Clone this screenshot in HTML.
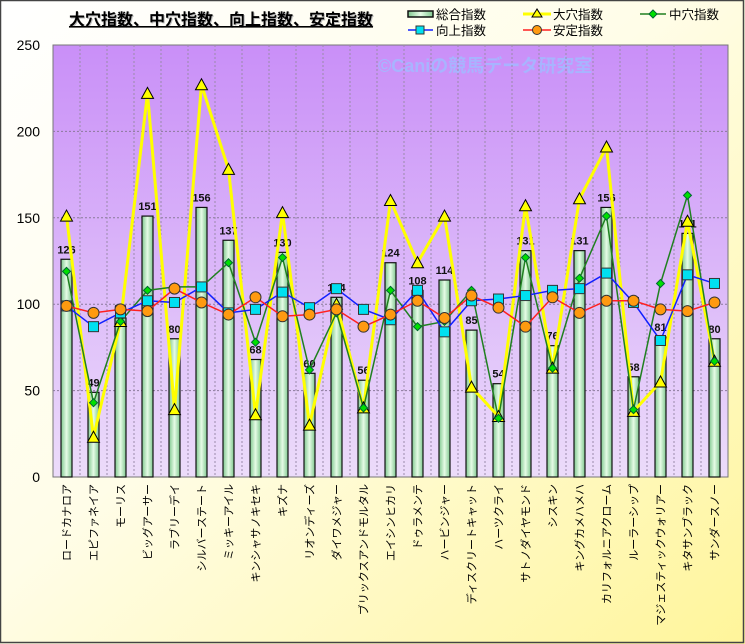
<!DOCTYPE html>
<html><head><meta charset="utf-8"><style>
html,body{margin:0;padding:0;width:745px;height:644px;overflow:hidden;background:#fff}
svg{display:block;font-family:"Liberation Sans","Noto Sans CJK JP",sans-serif}
</style></head><body>
<svg id="c" width="745" height="644" xmlns="http://www.w3.org/2000/svg">
<defs>
<linearGradient id="bg" x1="0" y1="0" x2="1" y2="1"><stop offset="0" stop-color="#ffffff"/><stop offset="0.45" stop-color="#fffde8"/><stop offset="1" stop-color="#fff59a"/></linearGradient>
<linearGradient id="pl" x1="0" y1="0" x2="0" y2="1"><stop offset="0" stop-color="#c98ff8"/><stop offset="1" stop-color="#ecdcfa"/></linearGradient>
<linearGradient id="bar" x1="0" y1="0" x2="1" y2="0"><stop offset="0" stop-color="#7fc88f"/><stop offset="0.5" stop-color="#e6fbe6"/><stop offset="1" stop-color="#7fc88f"/></linearGradient>
</defs>
<rect x="0" y="0" width="745" height="644" fill="url(#bg)"/>
<rect x="0.5" y="0.5" width="743" height="642" fill="none" stroke="#444" stroke-width="1.5"/>
<rect x="53" y="45" width="675" height="432" fill="url(#pl)" stroke="#777" stroke-width="1"/>
<text x="222" y="26" font-size="16" font-weight="bold" text-anchor="middle" fill="#bbb">大穴指数、中穴指数、向上指数、安定指数</text>
<text x="221" y="25" font-size="16" font-weight="bold" text-anchor="middle" fill="#000" text-decoration="underline">大穴指数、中穴指数、向上指数、安定指数</text>
<text x="378" y="72" font-size="18" font-weight="bold" fill="#a8b4ff">©Caniの競馬データ研究室</text>
<g id="g"></g>
</svg>
<script>
var g=document.getElementById('g'),h='';
function Y(v){return 477-v*1.728}
function X(i){return 66.5+27*i}
for(var k=1;k<5;k++){h+='<line x1="53" x2="728" y1="'+Y(k*50)+'" y2="'+Y(k*50)+'" stroke="#8a7a9a" stroke-dasharray="2,2"/>';}
for(var k=1;k<25;k++){var x=53+27*k;h+='<line x1="'+x+'" x2="'+x+'" y1="45" y2="477" stroke="#9a8aaa" stroke-dasharray="2,2"/>';}
for(var k=0;k<=5;k++){h+='<text x="40" y="'+(Y(k*50)+5)+'" font-size="14" text-anchor="end">'+k*50+'</text>';}
var names=["ロードカナロア","エピファネイア","モーリス","ビッグアーサー","ラブリーデイ","シルバーステート","ミッキーアイル","キンシャサノキセキ","キズナ","リオンディーズ","ダイワメジャー","ブリックスアンドモルタル","エイシンヒカリ","ドゥラメンテ","ハービンジャー","ディスクリートキャット","ハーツクライ","サトノダイヤモンド","シスキン","キングカメハメハ","カリフォルニアクローム","ルーラーシップ","マジェスティックウォリアー","キタサンブラック","サンダースノー"];
var tot=[126,49,92,151,80,156,137,68,130,60,104,56,124,108,114,85,54,131,76,131,156,58,81,141,80];
var oa=[151,23,90,222,39,227,178,36,153,30,100,40,160,124,151,52,35,157,63,161,191,38,55,148,67];
var na=[119,43,90,108,110,110,124,78,127,62,95,40,108,87,90,108,34,127,63,115,151,39,112,163,67];
var up=[99,87,95,102,101,110,95,97,107,98,109,97,91,108,84,102,103,105,108,109,118,101,79,117,112];
var st=[99,95,97,96,109,101,94,104,93,94,97,87,94,102,92,105,98,87,104,95,102,102,97,96,101];
for(var i=0;i<25;i++){var x=X(i),y=Y(tot[i]);
h+='<rect x="'+(x-5.5)+'" y="'+y+'" width="11" height="'+(477-y)+'" fill="url(#bar)" stroke="#111" stroke-width="1.2"/>';
h+='<text x="'+x+'" y="'+(y-6)+'" font-size="11" font-weight="bold" text-anchor="middle" fill="#111">'+tot[i]+'</text>';
h+='<text transform="translate('+(x+4)+',484) rotate(-90)" font-size="11" text-anchor="end">'+names[i]+'</text>';}
function pl(a,c,w){var p=a.map(function(v,i){return X(i)+','+Y(v)}).join(' ');return '<polyline points="'+p+'" fill="none" stroke="'+c+'" stroke-width="'+w+'"/>';}
h+=pl(oa,'#ffff00',3)+pl(na,'#208020',1.5)+pl(up,'#1020ff',1.5)+pl(st,'#ff2020',1.5);
for(var i=0;i<25;i++){var x=X(i);
var y=Y(oa[i]);h+='<polygon points="'+x+','+(y-6)+' '+(x-6)+','+(y+5)+' '+(x+6)+','+(y+5)+'" fill="#ffff00" stroke="#000"/>';
y=Y(na[i]);h+='<polygon points="'+x+','+(y-4)+' '+(x+4)+','+y+' '+x+','+(y+4)+' '+(x-4)+','+y+'" fill="#00e000" stroke="#063"/>';
y=Y(up[i]);h+='<rect x="'+(x-5)+'" y="'+(y-5)+'" width="10" height="10" fill="#00e0f0" stroke="#333"/>';
y=Y(st[i]);h+='<circle cx="'+x+'" cy="'+y+'" r="5.5" fill="#ff9a10" stroke="#333"/>';}
h+='<rect x="408" y="11" width="25" height="6" fill="url(#bar)" stroke="#111" stroke-width="1.5"/><text x="436" y="19" font-size="12.5">総合指数</text>';
h+='<line x1="523" y1="14" x2="551" y2="14" stroke="#ffff00" stroke-width="3"/><polygon points="537,9 532,17 542,17" fill="#ffff00" stroke="#000"/><text x="553" y="19" font-size="12.5">大穴指数</text>';
h+='<line x1="640" y1="14" x2="666" y2="14" stroke="#208020" stroke-width="1.5"/><polygon points="653,10 657,14 653,18 649,14" fill="#00e000" stroke="#063"/><text x="669" y="19" font-size="12.5">中穴指数</text>';
h+='<line x1="408" y1="30" x2="433" y2="30" stroke="#1020ff" stroke-width="1.5"/><rect x="416" y="26" width="8" height="8" fill="#00e0f0" stroke="#333"/><text x="436" y="35" font-size="12.5">向上指数</text>';
h+='<line x1="523" y1="30" x2="551" y2="30" stroke="#ff2020" stroke-width="1.5"/><circle cx="537" cy="30" r="4.5" fill="#ff9a10" stroke="#333"/><text x="553" y="35" font-size="12.5">安定指数</text>';
g.innerHTML=h;
</script>
</body></html>
